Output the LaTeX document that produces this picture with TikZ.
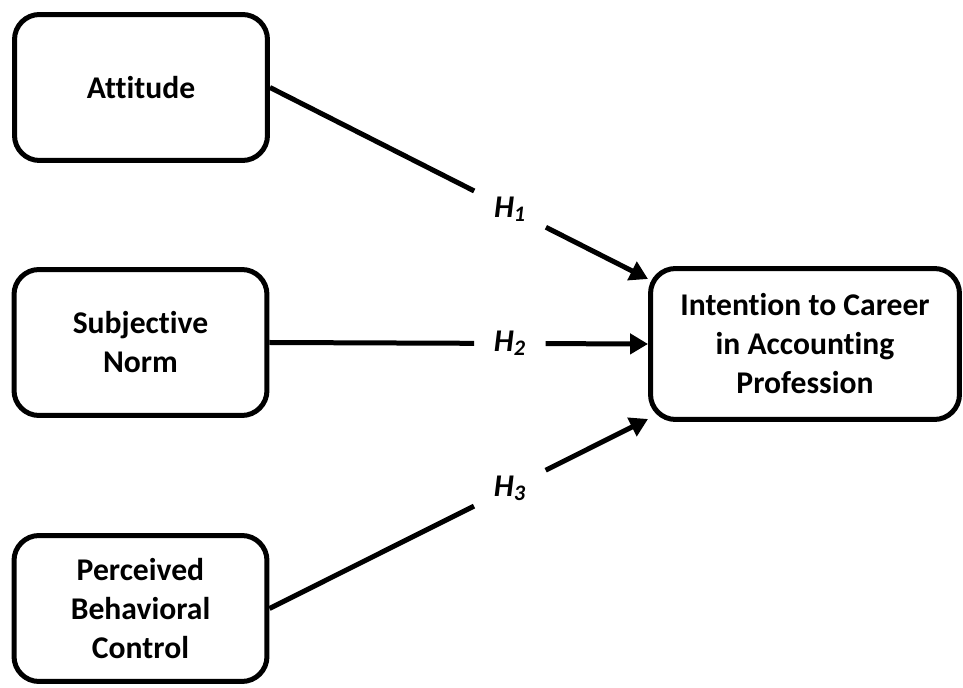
\documentclass[tikz,border=0pt]{standalone}
\usepackage{fontspec}
\setmainfont[Ligatures={NoCommon,NoContextual},RawFeature={-liga;-clig}]{Carlito}
\usetikzlibrary{arrows.meta,calc}

\begin{document}
\begin{tikzpicture}[x=0.02cm,y=-0.02cm,
  box/.style={draw,line width=0.1cm,rounded corners=0.5cm,align=center,
    font=\fontsize{18}{22.2}\selectfont\bfseries},
  srcbox/.style={box,minimum width=5.06cm,minimum height=2.92cm},
  hyp/.style={rectangle,minimum width=1.42cm,minimum height=0.8cm,inner sep=0pt,
    font=\fontsize{18}{22}\selectfont\bfseries\itshape},
  link/.style={line width=0.1cm},
  tip/.style={link,-{Triangle[length=0.36cm,width=0.4cm]}}]
\useasboundingbox (0,0) rectangle (963,688);

% boxes
\node[srcbox] (att) at (141,87.5) {Attitude};
\node[srcbox] (sub) at (140.5,342.5) {Subjective\\Norm};
\node[srcbox] (pbc) at (140.5,608.5) {Perceived\\Behavioral\\Control};
\node[box,minimum width=6.18cm,minimum height=3.02cm] (int) at (805,344)
  {Intention to Career\\in Accounting\\Profession};

% arrow ends
\coordinate (t1) at ([yshift=1.3cm]int.west);
\coordinate (t2) at (int.west);
\coordinate (t3) at ([yshift=-1.5cm]int.west);

% hypotheses
\node[hyp] (h1) at ($(att.east)!0.635!(t1)$) {H\textsubscript{1}};
\node[hyp] (h2) at ($(sub.east)!0.635!(t2)$) {H\textsubscript{2}};
\node[hyp] (h3) at ($(pbc.east)!0.635!(t3)$) {H\textsubscript{3}};

\draw[link] (att.east) -- (h1);
\draw[tip] (h1) -- (t1);
\draw[link] (sub.east) -- (h2);
\draw[tip] (h2) -- (t2);
\draw[link] (pbc.east) -- (h3);
\draw[tip] (h3) -- (t3);
\end{tikzpicture}
\end{document}
